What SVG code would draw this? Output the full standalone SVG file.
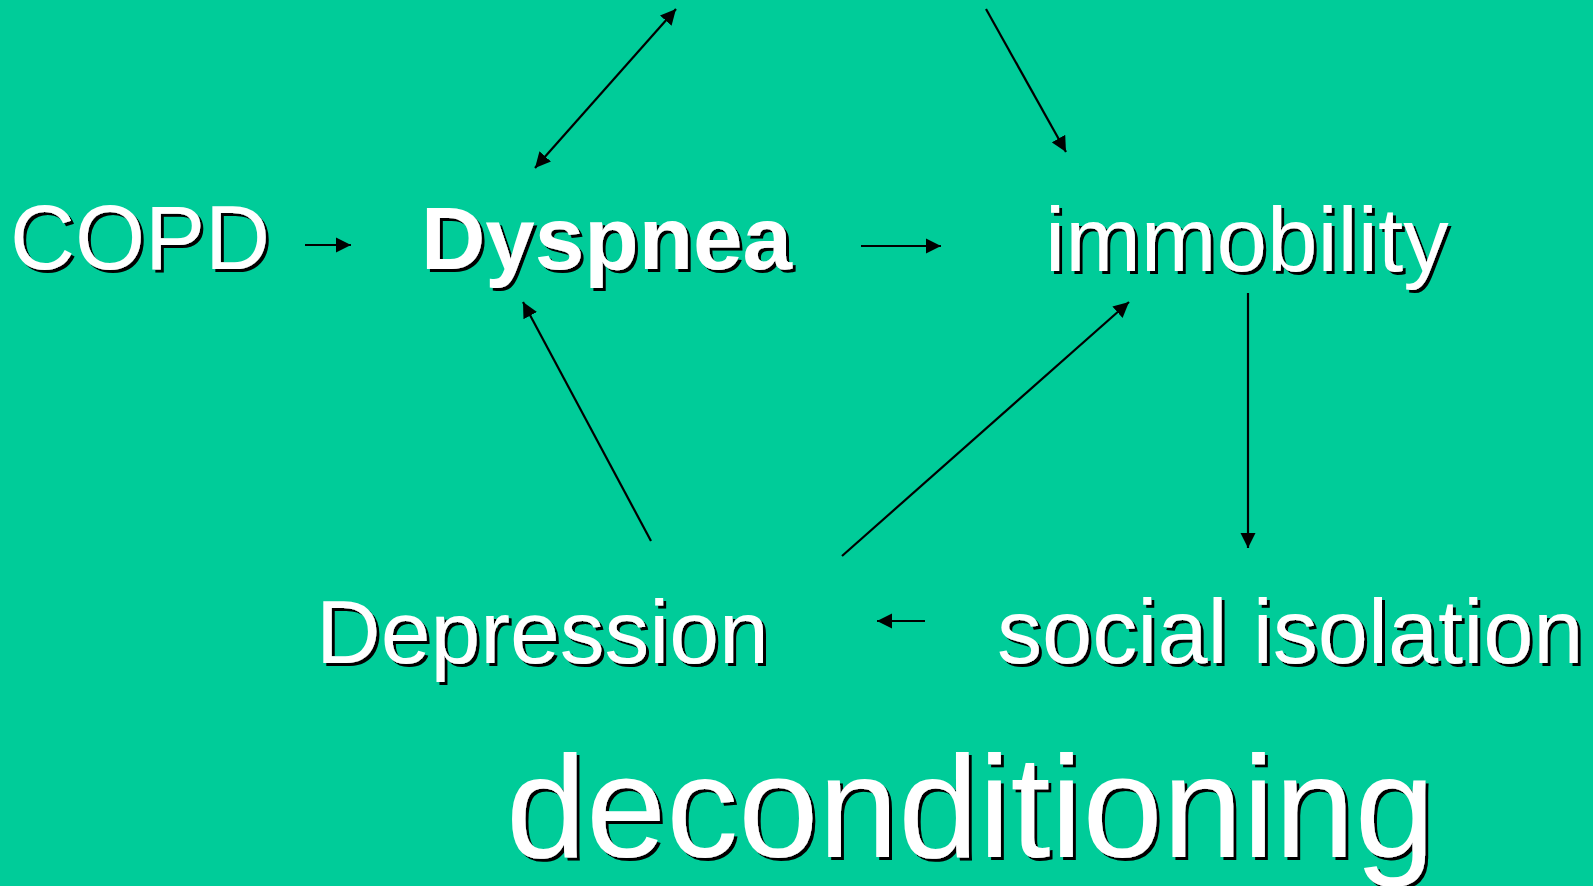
<svg xmlns="http://www.w3.org/2000/svg" width="1593" height="886" viewBox="0 0 1593 886">
<style>
.t{font-family:"Liberation Sans",Arial,sans-serif;fill:#fff;font-size:89px;filter:url(#sh)}
.b{font-weight:bold}
.c{stroke:#000;stroke-width:2.2;fill:none;marker-end:url(#ah)}
</style>
<defs>
<filter id="sh" x="-5%" y="-20%" width="110%" height="140%">
<feDropShadow dx="3" dy="3" stdDeviation="0" flood-color="#000" flood-opacity="1"/>
</filter>
<marker id="ah" viewBox="0 0 10 10" refX="10" refY="5" markerWidth="7" markerHeight="7" orient="auto-start-reverse" markerUnits="strokeWidth">
<path d="M0,0 L10,5 L0,10 z" fill="#000"/>
</marker>
</defs>
<rect width="1593" height="886" fill="#00CC99"/>
<g id="connectors">
<line class="c" x1="305" y1="245" x2="351" y2="245"/>
<line class="c" x1="861" y1="246" x2="941" y2="246"/>
<line class="c" x1="535" y1="168" x2="676" y2="9" marker-start="url(#ah)"/>
<line class="c" x1="986" y1="9" x2="1066" y2="152"/>
<line class="c" x1="1248" y1="293" x2="1248" y2="548"/>
<line class="c" x1="925" y1="621" x2="877" y2="621"/>
<line class="c" x1="651" y1="541" x2="523" y2="302"/>
<line class="c" x1="842" y1="556" x2="1129" y2="302"/>
</g>
<g id="copd"><text class="t" x="10" y="269" style="font-size:90px">COPD</text></g>
<g id="dyspnea"><text class="t b" x="421" y="269">Dyspnea</text></g>
<g id="immobility"><text class="t" x="1045" y="271" style="font-size:90.8px">immobility</text></g>
<g id="depression"><text class="t" x="316" y="663" style="font-size:89.5px">Depression</text></g>
<g id="social-isolation"><text class="t" x="997" y="663" style="font-size:90.2px">social isolation</text></g>
<g id="deconditioning"><text class="t" x="506" y="857" style="font-size:144px">deconditioning</text></g>
</svg>
